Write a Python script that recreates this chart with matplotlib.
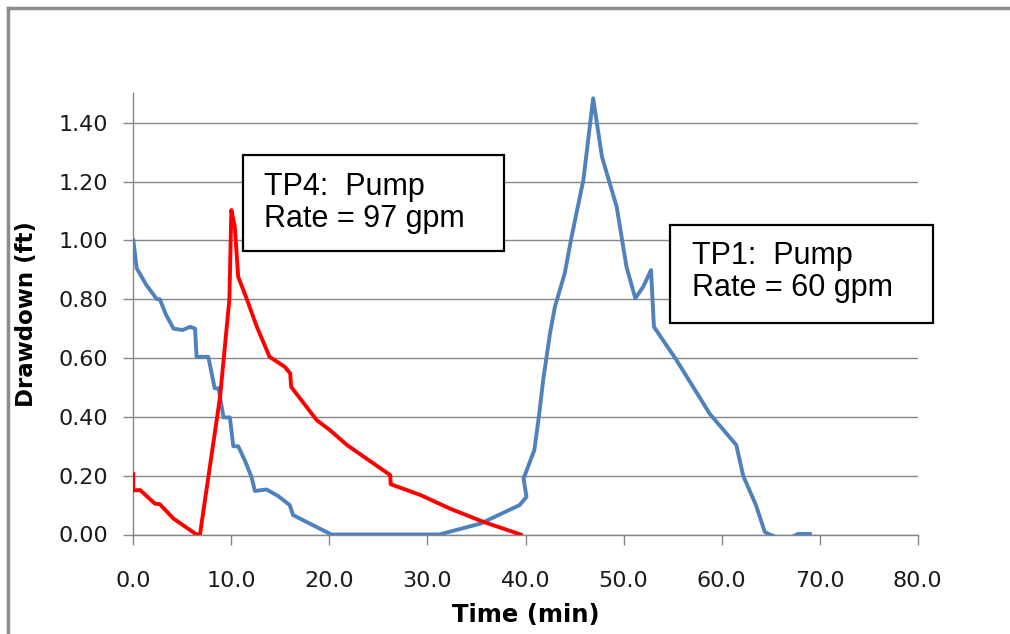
import matplotlib
matplotlib.use("Agg")
import matplotlib.pyplot as plt
from matplotlib.lines import Line2D
from matplotlib.patches import Rectangle
from matplotlib.ticker import FormatStrFormatter

# TP1 drawdown (blue)
tp1_time = [0, 0.35, 1.3, 2.4, 2.7, 3.3, 4.1, 5.0, 5.8, 6.3, 6.45, 7.65, 8.3, 8.7,
            9.2, 9.85, 10.2, 10.7, 11.4, 12.05, 12.4, 13.6, 14.8, 15.95, 16.3,
            18.3, 20.2, 31.2, 35.4, 39.4, 40.1, 39.8, 40.9, 41.4, 41.8, 42.5,
            43.0, 44.0, 44.7, 45.9, 46.9, 47.8, 49.3, 50.3, 51.2, 52.0, 52.8,
            53.1, 55.4, 58.8, 61.5, 62.2, 63.5, 64.4, 64.9, 66.5, 67.8, 69.0]
tp1_draw = [1.00, 0.905, 0.85, 0.80, 0.80, 0.75, 0.70, 0.695, 0.706, 0.70, 0.604,
            0.604, 0.497, 0.497, 0.398, 0.398, 0.30, 0.30, 0.25, 0.196, 0.148,
            0.153, 0.13, 0.10, 0.066, 0.032, 0.0, 0.0, 0.037, 0.10, 0.128, 0.19,
            0.287, 0.41, 0.525, 0.684, 0.774, 0.888, 1.012, 1.205, 1.483, 1.284,
            1.114, 0.91, 0.803, 0.842, 0.899, 0.706, 0.593, 0.41, 0.304, 0.20,
            0.10, 0.009, 0.0, -0.02, 0.002, 0.002]

# TP4 drawdown (red)
tp4_time = [0, 0, 0.7, 2.2, 2.7, 4.1, 6.45, 6.8, 8.85, 9.5, 9.8, 10.0, 10.35,
            10.7, 11.55, 12.6, 13.9, 15.45, 16.0, 16.1, 18.7, 20.05, 21.8, 26.2,
            26.25, 29.3, 32.3, 35.7, 39.5]
tp4_draw = [0.205, 0.15, 0.151, 0.105, 0.103, 0.054, 0.0, 0.0, 0.468, 0.695,
            0.80, 1.103, 1.046, 0.876, 0.803, 0.706, 0.604, 0.57, 0.548, 0.502,
            0.389, 0.355, 0.304, 0.202, 0.171, 0.134, 0.088, 0.043, 0.0]

xticks = [0, 10, 20, 30, 40, 50, 60, 70, 80]
yticks = [0.0, 0.2, 0.4, 0.6, 0.8, 1.0, 1.2, 1.4]

W, H = 1010, 634
grey = "#868686"

fig = plt.figure(figsize=(W / 100, H / 100), dpi=100)
ax = fig.add_axes([133.3 / W, 1 - 534.5 / H, 784.4 / W, 441.2 / H])

ax.plot(tp1_time, tp1_draw, color="#4F81BD", lw=2.8, solid_joinstyle="round", zorder=3)
ax.plot(tp4_time, tp4_draw, color="#FF0000", lw=2.8, solid_joinstyle="round", zorder=3)

ax.set_xlim(0, 80)
ax.set_ylim(0, 1.5)
ax.set_xticks(xticks)
ax.set_yticks(yticks)
ax.xaxis.set_major_formatter(FormatStrFormatter("%.1f"))
ax.yaxis.set_major_formatter(FormatStrFormatter("%.2f"))
ax.grid(axis="y", color=grey, lw=1)
ax.set_axisbelow(True)
for s in ["top", "right"]:
    ax.spines[s].set_visible(False)
for s in ["left", "bottom"]:
    ax.spines[s].set_color(grey)
    ax.spines[s].set_linewidth(1)
ax.tick_params(axis="both", length=7, width=1, color=grey, labelsize=16,
               labelcolor="#1a1a1a")
ax.tick_params(axis="x", pad=19)
ax.tick_params(axis="y", pad=11)

ax.set_xlabel("Time (min)", fontsize=17.5, fontweight="bold")
ax.set_ylabel("Drawdown (ft)", fontsize=16.5, fontweight="bold")
ax.xaxis.set_label_coords(0.5, -0.155)
ax.yaxis.set_label_coords(-0.122, 0.5)

# outer chart frame (only top and left visible in the crop)
fig.add_artist(Line2D([8 / W, 8 / W], [0, 1 - 8 / H], transform=fig.transFigure,
                      color="#8c8c8c", lw=2.5))
fig.add_artist(Line2D([8 / W, 1], [1 - 8 / H, 1 - 8 / H], transform=fig.transFigure,
                      color="#8c8c8c", lw=2.5))


def note(x0, y0, x1, y1, tx, ty, text):
    fig.add_artist(Rectangle((x0 / W, 1 - y1 / H), (x1 - x0) / W, (y1 - y0) / H,
                             transform=fig.transFigure, facecolor="white",
                             edgecolor="black", lw=1.6, zorder=5))
    fig.text(tx / W, 1 - ty / H, text, fontsize=22, family="Liberation Sans",
             va="top", ha="left", linespacing=1.1, zorder=6)


note(243, 155, 504, 251, 264, 172, "TP4:  Pump\nRate = 97 gpm")
note(670, 225, 933, 323, 692, 241, "TP1:  Pump\nRate = 60 gpm")

fig.savefig("out.png", dpi=100)
